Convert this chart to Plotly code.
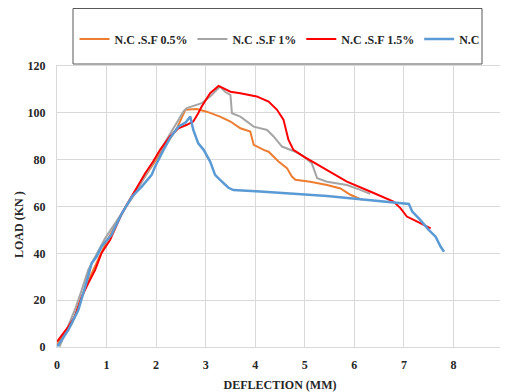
import plotly.graph_objects as go

# ---- data ----
series_names = ["N.C .S.F 0.5%", "N.C .S.F 1%", "N.C .S.F 1.5%", "N.C"]
series_colors = ["#ED7D31", "#A5A5A5", "#FF0000", "#5B9BD5"]

sf05_x = [0, 0.3, 0.6, 1.0, 1.5, 2.0, 2.3, 2.42, 2.59, 2.82, 3.02, 3.29, 3.50, 3.70, 3.90, 3.97,
          4.17, 4.27, 4.47, 4.64, 4.74, 4.81, 5.11, 5.45, 5.72, 5.92, 6.16]
sf05_y = [1, 10, 27, 45, 64, 80, 90, 93.4, 101.3, 101.6, 100.5, 98.4, 96.3, 93.4, 92, 86.3,
          84.2, 83.4, 79.2, 76.4, 72.8, 71.4, 70.6, 69.2, 67.7, 65, 62.8]

sf1_x = [0.05, 0.36, 0.50, 0.63, 0.97, 1.58, 1.91, 2.28, 2.41, 2.55, 2.62, 2.82, 2.92, 3.09, 3.29,
         3.39, 3.50, 3.53, 3.70, 3.97, 4.24, 4.37, 4.54, 4.81, 4.98, 5.14, 5.25, 5.45, 5.85, 6.12, 6.32]
sf1_y = [0.1, 15.8, 24.4, 32.9, 46.4, 65.7, 77.8, 90.6, 95.5, 100.5, 102, 103.4, 104.1, 107, 111.2,
         109, 107.7, 99.8, 98.4, 94.1, 92.7, 89.9, 85.6, 83.4, 81.3, 78.5, 72.1, 70.6, 69.2, 67.1, 65.4]

sf15_x = [0, 0.23, 0.36, 0.50, 0.63, 0.77, 0.90, 1.07, 1.31, 1.54, 1.78, 1.94, 2.08, 2.28, 2.45, 2.62,
          2.75, 2.85, 2.92, 3.09, 3.26, 3.50, 3.70, 4.03, 4.27, 4.44, 4.57, 4.67, 4.77, 4.98, 5.45,
          5.85, 6.32, 6.79, 6.93, 7.06, 7.27, 7.40, 7.54]
sf15_y = [2.3, 8.7, 12.9, 21.5, 27.2, 32.9, 40.2, 45.7, 57.1, 65.7, 74.2, 79.2, 84.2, 89.9, 93.4, 94.9,
          96.3, 99.8, 102.7, 108.4, 111.5, 109, 108.4, 107, 104.8, 101.3, 97.1, 88.5, 84.2, 81.3, 75.6,
          70.6, 66.4, 62.1, 59.3, 55.7, 53.5, 52.1, 50.7]

nc_x = [0, 0.03, 0.23, 0.43, 0.57, 0.70, 0.80, 0.90, 1.10, 1.31, 1.51, 1.71, 1.91, 1.98, 2.15, 2.28,
        2.45, 2.60, 2.69, 2.75, 2.85, 2.96, 3.09, 3.19, 3.29, 3.46, 3.56, 4.1, 5.45, 6.32, 6.59, 7.10,
        7.17, 7.33, 7.50, 7.64, 7.74, 7.81]
nc_y = [0.5, 0.9, 7.3, 15.8, 25.8, 35.8, 38.6, 42.9, 47.9, 57.1, 64.2, 68.5, 73.5, 77.1, 84.2, 89.2,
        94.1, 96, 98.4, 92.7, 87, 84.2, 79.2, 73.5, 71.4, 68, 67, 66.4, 64.5, 62.8, 62.1, 61.1,
        57.8, 54.3, 50, 47.1, 42.9, 40.7]

x_ticks = [0, 1, 2, 3, 4, 5, 6, 7, 8, 9]
y_ticks = [0, 20, 40, 60, 80, 100, 120]

xs = [sf05_x, sf1_x, sf15_x, nc_x]
ys = [sf05_y, sf1_y, sf15_y, nc_y]
widths = [2, 2, 2, 2.5]

FONT = "Liberation Serif, Times New Roman, serif"
TXT = "#262626"

fig = go.Figure()
for name, color, x, y, w in zip(series_names, series_colors, xs, ys, widths):
    fig.add_trace(go.Scatter(x=x, y=y, mode="lines", name=name,
                             line=dict(color=color, width=w)))

# the last x tick label sits right at the page edge, where plotly drops it;
# it is drawn as an annotation pinned to the axis value instead
x_last = x_ticks[-1]
x_ticktext = [str(v) for v in x_ticks[:-1]] + [""]

# page has an 8px body margin: figure 500x384 drawn from (8, 8);
# plot area sits at page x 57..503, y 66..347
grid = "#D9D9D9"
fig.update_layout(
    width=500, height=384,
    margin=dict(l=49, r=5, t=58, b=45, autoexpand=False),
    paper_bgcolor="white", plot_bgcolor="white",
    font=dict(family=FONT, size=12, color=TXT),
    showlegend=True,
    legend=dict(orientation="h", x=(280 - 57) / 446, xanchor="center",
                y=(347 - 39) / 281, yanchor="middle",
                bgcolor="rgba(0,0,0,0)", borderwidth=0,
                font=dict(family=FONT, size=12, color=TXT, weight="bold"),
                itemwidth=30, tracegroupgap=0),
    xaxis=dict(range=[0, 9], tickvals=x_ticks, ticktext=x_ticktext,
               showgrid=True, gridcolor=grid, gridwidth=1,
               zeroline=False, showline=True, linecolor=grid, mirror=True, automargin=False,
               ticks="", ticklabelstandoff=7, ticklabeloverflow="allow",
               tickfont=dict(family=FONT, size=12, color=TXT, weight="bold"),
               title=dict(text="DEFLECTION (MM)", standoff=9,
                          font=dict(family=FONT, size=12, color=TXT, weight="bold"))),
    yaxis=dict(range=[0, 120], tickvals=y_ticks, showgrid=True, gridcolor=grid, gridwidth=1,
               zeroline=False, showline=True, linecolor=grid, mirror=True, automargin=False,
               ticks="", ticklabelstandoff=8,
               tickfont=dict(family=FONT, size=12, color=TXT, weight="bold")),
    shapes=[dict(type="rect", xref="paper", yref="paper",
                 x0=(73 - 57) / 446, x1=(482 - 57) / 446,
                 y0=(347 - 64) / 281, y1=(347 - 8.5) / 281,
                 line=dict(color="#595959", width=1), fillcolor="rgba(0,0,0,0)", layer="above")],
    annotations=[
        dict(text="<b>LOAD (KN )</b>", xref="paper", yref="paper",
             x=(19 - 57) / 446, y=(347 - 225) / 281, xanchor="center", yanchor="middle",
             textangle=-90, showarrow=False,
             font=dict(family=FONT, size=12, color=TXT)),
        dict(text="<b>%s</b>" % x_last, xref="x", yref="paper", x=x_last, y=0,
             xanchor="center", yanchor="middle", yshift=-17, showarrow=False,
             font=dict(family=FONT, size=12, color=TXT)),
    ],
)

fig.write_html("out.html",
               post_script="document.documentElement.style.overflow='hidden';"
                           "document.body.style.overflow='hidden';")
